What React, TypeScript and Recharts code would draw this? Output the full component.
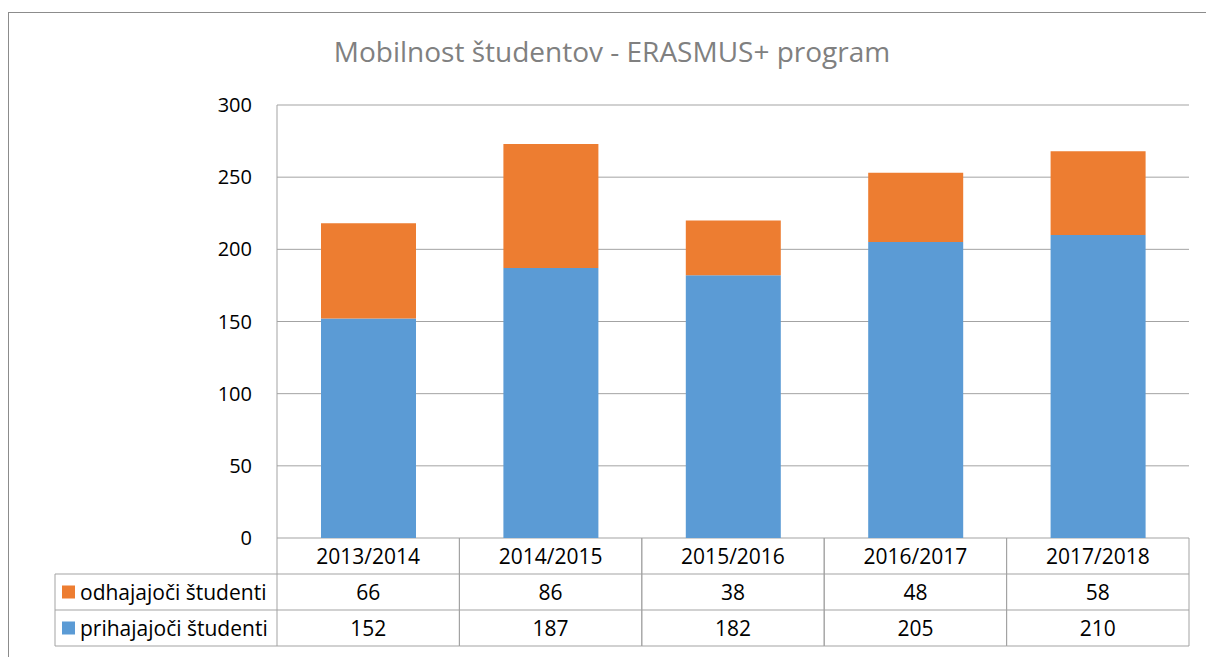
import { BarChart, Bar, XAxis, YAxis, CartesianGrid } from "recharts";

const categories = ["2013/2014", "2014/2015", "2015/2016", "2016/2017", "2017/2018"];
const odhajajoci = [66, 86, 38, 48, 58];
const prihajajoci = [152, 187, 182, 205, 210];
const yTicks = [0, 50, 100, 150, 200, 250, 300];

const seriesNames = { odhajajoci: "odhajajoči študenti", prihajajoci: "prihajajoči študenti" };
const ORANGE = "#ED7D31";
const BLUE = "#5B9BD5";
const LINE = "#a3a3a3";
const FONT = "'Open Sans', sans-serif";
const FS = 21;

const W = 1206;
const H = 657;
const Y_AXIS_W = 60;
const X_AXIS_H = 1;
const PLOT_LEFT = 277;
const M = { top: 105, right: 17, bottom: 118, left: PLOT_LEFT - Y_AXIS_W };
const BAND = (W - PLOT_LEFT - M.right) / categories.length;
const TABLE_TOP = H - M.bottom - X_AXIS_H;
const ROW = 36;
const LEGEND_LEFT = 55;

const data = categories.map((c, i) => ({
  year: c,
  prihajajoci: prihajajoci[i],
  odhajajoci: odhajajoci[i],
}));

function TableTick(props: any) {
  const { x, payload } = props;
  const i = payload.index as number;
  const l = x - BAND / 2;
  const r = x + BAND / 2;
  const y0 = TABLE_TOP;
  const rows = [y0 + ROW, y0 + ROW * 2, y0 + ROW * 3];
  return (
    <g fontFamily={FONT} fontSize={FS} fill="#000">
      <line x1={l} x2={l} y1={y0} y2={rows[2]} stroke={LINE} />
      <line x1={r} x2={r} y1={y0} y2={rows[2]} stroke={LINE} />
      {rows.map((yy) => (
        <line key={yy} x1={l} x2={r} y1={yy} y2={yy} stroke={LINE} />
      ))}
      <text x={x} y={y0 + ROW / 2} textAnchor="middle" dominantBaseline="central">{payload.value}</text>
      <text x={x} y={y0 + ROW * 1.5} textAnchor="middle" dominantBaseline="central">{odhajajoci[i]}</text>
      <text x={x} y={y0 + ROW * 2.5} textAnchor="middle" dominantBaseline="central">{prihajajoci[i]}</text>
      {i === 0 && (
        <g>
          <line x1={LEGEND_LEFT} x2={LEGEND_LEFT} y1={rows[0]} y2={rows[2]} stroke={LINE} />
          {rows.map((yy) => (
            <line key={"l" + yy} x1={LEGEND_LEFT} x2={l} y1={yy} y2={yy} stroke={LINE} />
          ))}
          <rect x={LEGEND_LEFT + 7} y={y0 + ROW * 1.5 - 6.5} width={13} height={13} fill={ORANGE} />
          <text x={LEGEND_LEFT + 25} y={y0 + ROW * 1.5} dominantBaseline="central">{seriesNames.odhajajoci}</text>
          <rect x={LEGEND_LEFT + 7} y={y0 + ROW * 2.5 - 6.5} width={13} height={13} fill={BLUE} />
          <text x={LEGEND_LEFT + 25} y={y0 + ROW * 2.5} dominantBaseline="central">{seriesNames.prihajajoci}</text>
        </g>
      )}
    </g>
  );
}

export default function App() {
  return (
    <div style={{ position: "absolute", left: 0, top: 0, width: W, height: H, overflow: "hidden", background: "#fff" }}>
      <div
        style={{
          position: "absolute",
          left: 8,
          top: 12,
          width: W + 40,
          height: H + 40,
          border: "1.5px solid #8c8c8c",
        }}
      />
      <div
        style={{
          position: "absolute",
          left: 0,
          width: 1224,
          top: 32,
          textAlign: "center",
          fontFamily: FONT,
          fontSize: 28,
          color: "#808080",
        }}
      >
        Mobilnost študentov - ERASMUS+ program
      </div>
      <div style={{ position: "absolute", left: 0, top: 0 }}>
        <BarChart width={W} height={H} data={data} margin={M} barSize={95}>
          <CartesianGrid vertical={false} stroke={LINE} />
          <XAxis
            dataKey="year"
            axisLine={false}
            tickLine={false}
            tick={<TableTick />}
            interval={0}
            tickSize={0}
            height={X_AXIS_H}
          />
          <YAxis
            domain={[0, 300]}
            ticks={yTicks}
            axisLine={{ stroke: LINE }}
            tickLine={false}
            tickSize={0}
            tickMargin={25}
            tick={{ fill: "#000", fontSize: 20, fontFamily: FONT }}
            width={Y_AXIS_W}
          />
          <Bar dataKey="prihajajoci" name={seriesNames.prihajajoci} stackId="a" fill={BLUE} isAnimationActive={false} />
          <Bar dataKey="odhajajoci" name={seriesNames.odhajajoci} stackId="a" fill={ORANGE} isAnimationActive={false} />
        </BarChart>
      </div>
    </div>
  );
}
